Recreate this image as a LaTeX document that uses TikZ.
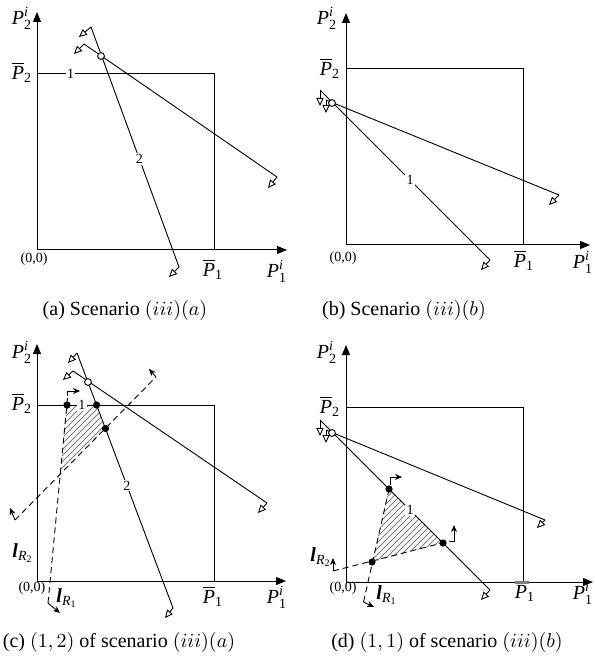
\documentclass[tikz,border=0pt]{standalone}
\usepackage{amsmath}
\usepackage{fontspec}
\setmainfont{Liberation Serif}
\usetikzlibrary{arrows.meta,patterns}

\tikzset{
  axis/.style={line width=0.5pt,-{Triangle[length=5pt,width=4pt]}},
  bound/.style={line width=0.5pt},
  cons/.style={line width=0.45pt},
  side/.style={line width=0.45pt,-{Triangle[open,length=4pt,width=3.6pt]}},
  hint/.style={line width=0.45pt,-{Stealth[length=3.5pt,width=3pt]}},
  lim/.style={line width=0.45pt,dash pattern=on 3pt off 2pt},
  lbl/.style={fill=white,inner sep=0.6pt,font=\scriptsize},
  pnt/.style={circle,fill=black,inner sep=0pt,minimum size=3.6pt},
  opn/.style={circle,draw,fill=white,line width=0.45pt,inner sep=0pt,minimum size=3.4pt},
  hatch/.style={pattern=north east lines,pattern color=gray},
  captxt/.style={font=\normalsize},
}
\newcommand{\Pbar}[1]{$\overline{\textit{P}}_{\textrm{#1}}$}
\newcommand{\Pup}[1]{$\textit{P}_{\textrm{#1}}^{\textit{i}}$}
\newcommand{\lR}[1]{$\textbf{\textit{l}}_{\textit{R}_{\textrm{#1}}}$}

\begin{document}
\begin{tikzpicture}[x=0.5pt,y=-0.5pt]
  \useasboundingbox (0,0) rectangle (594,662);

  % ---------------- (a) scenario (iii)(a)
  \coordinate (aO) at (37,250);
  \coordinate (aY) at (37,12);
  \coordinate (aX) at (287,250);
  \coordinate (aB) at (214,74);
  \coordinate (a1s) at (84,44);   \coordinate (a1e) at (277,177);
  \coordinate (a2s) at (91,27);   \coordinate (a2e) at (179,267);
  \coordinate (a1sa) at (74,54);  \coordinate (a1ea) at (268,188);
  \coordinate (a2sa) at (79,37);  \coordinate (a2ea) at (169,277);
  % axes and box
  \draw[axis] (aO) -- (aY);
  \draw[axis] (aO) -- (aX);
  \draw[bound] (aO) rectangle (aB);
  \path (aO |- aB) -- node[lbl,pos=0.19] (aL1) {1} (aB);
  % constraint lines
  \draw[cons] (a1s) -- (a1e);
  \draw[cons] (a2s) -- node[lbl,pos=0.55] (aL2) {2} (a2e);
  \draw[side] (a1s) -- (a1sa);
  \draw[side] (a1e) -- (a1ea);
  \draw[side] (a2s) -- (a2sa);
  \draw[side] (a2e) -- (a2ea);
  \node[opn] (aX12) at (101,56) {};
  % labels
  \node (aP2i) at (22,18) {\Pup{2}};
  \node (aP2) at (22,72) {\Pbar{2}};
  \node[font=\scriptsize] (aO0) at (34,259) {(0,0)};
  \node (aP1) at (213,269) {\Pbar{1}};
  \node (aP1i) at (277,271) {\Pup{1}};
  \node[captxt] (aCap) at (125,310) {(a) Scenario $(iii)(a)$};

  % ---------------- (b) scenario (iii)(b)
  \coordinate (bO) at (346,245);
  \coordinate (bY) at (346,13);
  \coordinate (bX) at (590,245);
  \coordinate (bB) at (523,69);
  \coordinate (b1s) at (320,90);  \coordinate (b1e) at (490,260);
  \coordinate (b2s) at (326,100); \coordinate (b2e) at (559,195);
  \coordinate (b1sa) at (320,106); \coordinate (b1ea) at (481,270);
  \coordinate (b2sa) at (326,113); \coordinate (b2ea) at (549,205);
  \draw[axis] (bO) -- (bY);
  \draw[axis] (bO) -- (bX);
  \draw[bound] (bO) rectangle (bB);
  \draw[cons] (b1s) -- node[lbl,pos=0.53] (bL1) {1} (b1e);
  \draw[cons] (b2s) -- (b2e);
  \draw[side] (b1s) -- (b1sa);
  \draw[side] (b1e) -- (b1ea);
  \draw[side] (b2s) -- (b2sa);
  \draw[side] (b2e) -- (b2ea);
  \node[opn] (bX12) at (332,103) {};
  \node (bP2i) at (327,18) {\Pup{2}};
  \node (bP2) at (330,68) {\Pbar{2}};
  \node[font=\scriptsize] (bO0) at (343,258) {(0,0)};
  \node (bP1) at (524,260) {\Pbar{1}};
  \node (bP1i) at (583,262) {\Pup{1}};
  \node[captxt] (bCap) at (404,310) {(b) Scenario $(iii)(b)$};

  % ---------------- (c) (1,2) of scenario (iii)(a)
  \coordinate (cO) at (37,581);
  \coordinate (cY) at (37,344);
  \coordinate (cX) at (286,581);
  \coordinate (cB) at (214,405);
  \coordinate (c1s) at (73,371);  \coordinate (c1e) at (267,503);
  \coordinate (c2s) at (77,353);  \coordinate (c2e) at (173,608);
  \coordinate (c1sa) at (63,380); \coordinate (c1ea) at (258,513);
  \coordinate (c2sa) at (68,363); \coordinate (c2ea) at (165,618);
  \coordinate (cR1s) at (48,603); \coordinate (cR1e) at (67.7,396);
  \coordinate (cR2s) at (15,520); \coordinate (cR2e) at (156,377);
  \coordinate (cQ) at (60.2,474.4);
  % feasible region
  \fill[hatch] (67,405) -- (96.6,405) -- (105.5,428.5) -- (cQ) -- cycle;
  \draw[axis] (cO) -- (cY);
  \draw[axis] (cO) -- (cX);
  \draw[bound] (cO) rectangle (cB);
  \path (cO |- cB) -- node[lbl,pos=0.254] (cL1) {1} (cB);
  \draw[cons] (c1s) -- (c1e);
  \draw[cons] (c2s) -- node[lbl,pos=0.52] (cL2) {2} (c2e);
  \draw[side] (c1s) -- (c1sa);
  \draw[side] (c1e) -- (c1ea);
  \draw[side] (c2s) -- (c2sa);
  \draw[side] (c2e) -- (c2ea);
  % limit lines
  \draw[lim] (cR1s) -- (cR1e);
  \draw[lim] (cR2s) -- (cR2e);
  \draw[hint] (cR1e) |- (80,391);
  \draw[hint] (cR1s) -- (60,613);
  \draw[hint] (cR2s) -- (10,508);
  \draw[hint] (cR2e) -- (149,369);
  \node[opn] (cX12) at (88,382) {};
  \node[pnt] (cD1) at (67,405) {};
  \node[pnt] (cD2) at (96.6,405) {};
  \node[pnt] (cD3) at (105.5,428.5) {};
  \node (cLR2) at (23,553) {\lR{2}};
  \node (cLR1) at (67,598) {\lR{1}};
  \node (cP2i) at (22,352) {\Pup{2}};
  \node (cP2) at (22,403) {\Pbar{2}};
  \node[font=\scriptsize] (cO0) at (32,588) {(0,0)};
  \node (cP1) at (213,596) {\Pbar{1}};
  \node (cP1i) at (277,597) {\Pup{1}};
  \node[captxt] (cCap) at (119,642) {(c) $(1,2)$ of scenario $(iii)(a)$};

  % ---------------- (d) (1,1) of scenario (iii)(b)
  \coordinate (dO) at (346,582);
  \coordinate (dY) at (346,345);
  \coordinate (dX) at (593,582);
  \coordinate (dB) at (523,407);
  \coordinate (d1s) at (320,420); \coordinate (d1e) at (490,590);
  \coordinate (d2s) at (326,430); \coordinate (d2e) at (545,520);
  \coordinate (d1sa) at (320,436); \coordinate (d1ea) at (481,600);
  \coordinate (d2sa) at (326,443); \coordinate (d2ea) at (537,528);
  \coordinate (dR1s) at (363.5,602); \coordinate (dR1e) at (390,485);
  \coordinate (dR2s) at (333,571);   \coordinate (dR2e) at (450,541);
  \fill[hatch] (389,489) -- (443,543) -- (372,562) -- cycle;
  \draw[axis] (dO) -- (dY);
  \draw[axis] (dO) -- (dX);
  \draw[bound] (dO) rectangle (dB);
  \draw[cons] (d1s) -- node[lbl,pos=0.53] (dL1) {1} (d1e);
  \draw[cons] (d2s) -- (d2e);
  \draw[side] (d1s) -- (d1sa);
  \draw[side] (d1e) -- (d1ea);
  \draw[side] (d2s) -- (d2sa);
  \draw[side] (d2e) -- (d2ea);
  \draw[lim] (dR1s) -- (dR1e);
  \draw[lim] (dR2s) -- (dR2e);
  \draw[hint] (dR1e) |- (402,477);
  \draw[hint] (dR1s) -- (374,607);
  \draw[hint] (dR2e) -| (454,525);
  \draw[hint] (dR2s) -- (333,558);
  \node[opn] (dX12) at (332,433) {};
  \node[pnt] (dD1) at (389,489) {};
  \node[pnt] (dD2) at (443,543) {};
  \node[pnt] (dD3) at (372,562) {};
  \node (dLR2) at (321,557) {\lR{2}};
  \node (dLR1) at (387,595) {\lR{1}};
  \node (dP2i) at (327,352) {\Pup{2}};
  \node (dP2) at (330,406) {\Pbar{2}};
  \node[font=\scriptsize] (dO0) at (343,588) {(0,0)};
  \draw[gray,line width=1.5pt] (515,582) -- (529,582);
  \node (dP1) at (525,593) {$\textit{P}_{\textrm{1}}$};
  \node (dP1i) at (583,593) {\Pup{1}};
  \node[captxt] (dCap) at (447,642) {(d) $(1,1)$ of scenario $(iii)(b)$};
\end{tikzpicture}
\end{document}
